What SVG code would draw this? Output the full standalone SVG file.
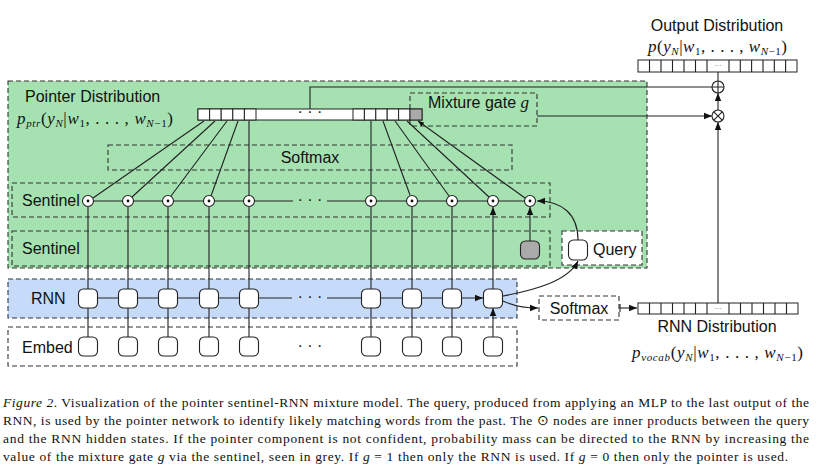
<svg xmlns="http://www.w3.org/2000/svg" width="817" height="472" viewBox="0 0 817 472">
<style>
.lbl{font-family:"Liberation Sans",Arial,sans-serif;font-size:16px;fill:#111}
.math{font-family:"Liberation Serif","Times New Roman",serif;font-size:17px;fill:#111}
.it{font-style:italic}
.cap{font-family:"Liberation Serif","Times New Roman",serif;font-size:13.5px;fill:#111}
.dash{fill:none;stroke:#333;stroke-width:1.1;stroke-dasharray:5,3}
.ln{fill:none;stroke:#222;stroke-width:1.1}
.node{fill:#fff;stroke:#222;stroke-width:1.1}
.cell{fill:#fff;stroke:#222;stroke-width:1}
.dots{font-family:"Liberation Sans",Arial,sans-serif;font-size:16px;fill:#111}
</style>
<defs>
<marker id="ah" viewBox="0 0 10 10" refX="10" refY="5" markerWidth="8" markerHeight="8" orient="auto" markerUnits="userSpaceOnUse"><path d="M0,1 L10,5 L0,9 z" fill="#111"/></marker>
<marker id="ahs" viewBox="0 0 10 10" refX="10" refY="5" markerWidth="6" markerHeight="6" orient="auto" markerUnits="userSpaceOnUse"><path d="M0,1 L10,5 L0,9 z" fill="#111"/></marker>
</defs>
<rect width="817" height="472" fill="#fff"/>

<!-- regions -->
<g id="pointer-region">
<rect x="8" y="81" width="639" height="187" fill="#a6e1b2" stroke="#333" stroke-width="1.1" stroke-dasharray="5,3"/>
<text class="lbl" x="25" y="102">Pointer Distribution</text>
<text class="math" x="17" y="124" textLength="156"><tspan class="it">p</tspan><tspan class="it" font-size="11" dy="3">ptr</tspan><tspan dy="-3">(</tspan><tspan class="it">y</tspan><tspan class="it" font-size="11" dy="3">N</tspan><tspan dy="-3">|</tspan><tspan class="it">w</tspan><tspan font-size="11" dy="3">1</tspan><tspan dy="-3">, . . . , </tspan><tspan class="it">w</tspan><tspan class="it" font-size="11" dy="3">N</tspan><tspan font-size="11">−1</tspan><tspan dy="-3">)</tspan></text>
</g>
<g id="softmax-pointer">
<rect class="dash" x="108" y="145" width="404" height="25"/>
<text class="lbl" x="310" y="163" text-anchor="middle">Softmax</text>
</g>
<g id="mixture-gate">
<rect class="dash" x="410" y="93" width="127" height="33"/>
<text class="lbl" x="428" y="108">Mixture gate <tspan font-family="Liberation Serif,serif" font-style="italic" font-size="17">g</tspan></text>
</g>
<g id="sentinel-row">
<rect class="dash" x="12" y="183" width="538" height="34"/>
<text class="lbl" x="22" y="206">Sentinel</text>
</g>
<g id="sentinel-box">
<rect class="dash" x="12" y="231" width="538" height="35"/>
<text class="lbl" x="22" y="254">Sentinel</text>
</g>
<g id="query-box">
<rect x="562" y="231" width="80" height="34" fill="#fff" stroke="#333" stroke-width="1.1" stroke-dasharray="5,3"/>
<text class="lbl" x="593" y="255">Query</text>
</g>
<g id="rnn-box">
<rect x="8" y="279" width="509" height="39" fill="#c6dbfa" stroke="#333" stroke-width="1.1" stroke-dasharray="5,3"/>
<text class="lbl" x="31" y="304">RNN</text>
</g>
<g id="embed-box">
<rect class="dash" x="8" y="327" width="509" height="39" fill="#fff"/>
<text class="lbl" x="22" y="353">Embed</text>
</g>
<g id="softmax-rnn">
<rect class="dash" x="539" y="296" width="80" height="24" fill="#fff"/>
<text class="lbl" x="579" y="314" text-anchor="middle">Softmax</text>
</g>

<!-- connectors -->
<g id="connectors">
<!-- embed to rnn -->
<path class="ln" marker-end="url(#ah)" d="M88,337V308M128,337V308M168,337V308M209,337V308M249,337V308M371,337V308M412,337V308M452,337V308M493,337V308"/>
<!-- rnn to inner products -->
<path class="ln" marker-end="url(#ah)" d="M88,289V207M128,289V207M168,289V207M209,289V207M249,289V207M371,289V207M412,289V207M452,289V207M493,289V207"/>
<path class="ln" marker-end="url(#ah)" d="M530,241V207"/>
<!-- rnn recurrences -->
<path class="ln" marker-end="url(#ah)" d="M98,298H118M138,298H158M178,298H199M219,298H239M259,298H292M327,298H361M381,298H402M422,298H442M462,298H483"/>
<!-- sentinel line -->
<path class="ln" d="M88,201H293M327,201H530"/>
<!-- inner products to pointer bar -->
<path class="ln" marker-end="url(#ahs)" d="M93,198L204,121M132,197L215,121M171,196L227,121M211,196L238,121M249,195V121M371,195V121M410,195L383,121M449,196L395,121M489,197L407,121M525,198L418,121"/>
<!-- query to last inner product -->
<path class="ln" marker-end="url(#ah)" d="M578,240C578,214 562,201 537,201"/>
<!-- rnn to query -->
<path class="ln" marker-end="url(#ah)" d="M503,296C535,290 568,281 578,261"/>
<!-- rnn to softmax -->
<path class="ln" marker-end="url(#ah)" d="M503,301C514,306 524,308 538,308"/>
<!-- softmax to rnn distribution -->
<path class="ln" d="M620,304V312"/>
<path class="ln" marker-end="url(#ah)" d="M620,308H637"/>
<!-- rnn dist to times -->
<path class="ln" marker-end="url(#ah)" d="M718,303V122"/>
<!-- mixture gate to times -->
<path class="ln" marker-end="url(#ah)" d="M537,116H712"/>
<!-- pointer bar to plus -->
<path class="ln" d="M310,109V87H712"/>
<!-- times to plus -->
<path class="ln" marker-end="url(#ah)" d="M718,110V93"/>
<!-- plus to output -->
<path class="ln" d="M718,81V72"/>
</g>

<!-- pointer bar -->
<g id="pointer-bar">
<rect class="cell" x="198" y="109" width="224" height="11"/>
<rect class="cell" x="198" y="109" width="11.6" height="11"/>
<rect class="cell" x="209.6" y="109" width="11.6" height="11"/>
<rect class="cell" x="221.2" y="109" width="11.6" height="11"/>
<rect class="cell" x="232.8" y="109" width="11.6" height="11"/>
<rect class="cell" x="244.4" y="109" width="11.6" height="11"/>
<rect class="cell" x="353" y="109" width="11.4" height="11"/>
<rect class="cell" x="364.4" y="109" width="11.4" height="11"/>
<rect class="cell" x="375.8" y="109" width="11.4" height="11"/>
<rect class="cell" x="387.2" y="109" width="11.4" height="11"/>
<rect class="cell" x="398.6" y="109" width="11.4" height="11"/>
<rect x="410" y="109" width="12" height="11" fill="#aaa" stroke="#222" stroke-width="1"/>
<text class="dots" x="310" y="117" text-anchor="middle">· · ·</text>
</g>

<!-- output distribution -->
<g id="output-distribution">
<text class="lbl" x="717" y="31" text-anchor="middle">Output Distribution</text>
<text class="math" x="648" y="52" textLength="139"><tspan class="it">p</tspan>(<tspan class="it">y</tspan><tspan class="it" font-size="11" dy="3">N</tspan><tspan dy="-3">|</tspan><tspan class="it">w</tspan><tspan font-size="11" dy="3">1</tspan><tspan dy="-3">, . . . , </tspan><tspan class="it">w</tspan><tspan class="it" font-size="11" dy="3">N</tspan><tspan font-size="11">−1</tspan><tspan dy="-3">)</tspan></text>
<rect class="cell" x="638" y="60" width="159" height="12"/>
<path class="ln" stroke-width="1" d="M649.5,60V72M661,60V72M672.5,60V72M684,60V72M695.5,60V72M707,60V72M729,60V72M740.3,60V72M751.6,60V72M763,60V72M774.3,60V72M785.6,60V72"/>
<text x="718" y="68" text-anchor="middle" font-family="Liberation Sans,sans-serif" font-size="7" fill="#3355aa">···</text>
</g>

<!-- rnn distribution -->
<g id="rnn-distribution">
<rect class="cell" x="638" y="303" width="160" height="11"/>
<path class="ln" stroke-width="1" d="M649.5,303V314M661,303V314M672.5,303V314M684,303V314M695.5,303V314M707,303V314M729,303V314M740.5,303V314M752,303V314M763.5,303V314M775,303V314M786.5,303V314"/>
<text x="718" y="311" text-anchor="middle" font-family="Liberation Sans,sans-serif" font-size="7" fill="#3355aa">···</text>
<text class="lbl" x="717" y="332" text-anchor="middle">RNN Distribution</text>
<text class="math" x="632" y="358" textLength="171"><tspan class="it">p</tspan><tspan class="it" font-size="11" dy="3">vocab</tspan><tspan dy="-3">(</tspan><tspan class="it">y</tspan><tspan class="it" font-size="11" dy="3">N</tspan><tspan dy="-3">|</tspan><tspan class="it">w</tspan><tspan font-size="11" dy="3">1</tspan><tspan dy="-3">, . . . , </tspan><tspan class="it">w</tspan><tspan class="it" font-size="11" dy="3">N</tspan><tspan font-size="11">−1</tspan><tspan dy="-3">)</tspan></text>
</g>

<!-- combine ops -->
<g id="plus-op">
<circle cx="718" cy="87" r="6" fill="#fff" stroke="#222" stroke-width="1.1"/>
<path class="ln" d="M712,87H724M718,81V93"/>
</g>
<g id="times-op">
<circle cx="718" cy="116" r="6" fill="#fff" stroke="#222" stroke-width="1.1"/>
<path class="ln" d="M713.8,111.8L722.2,120.2M722.2,111.8L713.8,120.2"/>
</g>

<!-- inner product nodes -->
<g id="inner-products">
<g id="ip1"><circle class="node" cx="88" cy="201" r="5.5"/><circle cx="88" cy="201" r="1.4" fill="#111"/></g>
<g id="ip2"><circle class="node" cx="128" cy="201" r="5.5"/><circle cx="128" cy="201" r="1.4" fill="#111"/></g>
<g id="ip3"><circle class="node" cx="168" cy="201" r="5.5"/><circle cx="168" cy="201" r="1.4" fill="#111"/></g>
<g id="ip4"><circle class="node" cx="209" cy="201" r="5.5"/><circle cx="209" cy="201" r="1.4" fill="#111"/></g>
<g id="ip5"><circle class="node" cx="249" cy="201" r="5.5"/><circle cx="249" cy="201" r="1.4" fill="#111"/></g>
<g id="ip6"><circle class="node" cx="371" cy="201" r="5.5"/><circle cx="371" cy="201" r="1.4" fill="#111"/></g>
<g id="ip7"><circle class="node" cx="412" cy="201" r="5.5"/><circle cx="412" cy="201" r="1.4" fill="#111"/></g>
<g id="ip8"><circle class="node" cx="452" cy="201" r="5.5"/><circle cx="452" cy="201" r="1.4" fill="#111"/></g>
<g id="ip9"><circle class="node" cx="493" cy="201" r="5.5"/><circle cx="493" cy="201" r="1.4" fill="#111"/></g>
<g id="ip10"><circle class="node" cx="530" cy="201" r="5.5"/><circle cx="530" cy="201" r="1.4" fill="#111"/></g>
<text class="dots" x="310" y="205" text-anchor="middle">· · ·</text>
</g>

<g id="sentinel-node"><rect x="520.5" y="241" width="19" height="18" rx="5" fill="#aaa" stroke="#222" stroke-width="1.1"/></g>
<g id="query-node"><rect class="node" x="568.5" y="240" width="19" height="20" rx="5"/></g>

<!-- rnn nodes -->
<g id="rnn-nodes">
<g id="rnn1"><rect class="node" x="78.5" y="289" width="19" height="19" rx="5"/></g>
<g id="rnn2"><rect class="node" x="118.5" y="289" width="19" height="19" rx="5"/></g>
<g id="rnn3"><rect class="node" x="158.5" y="289" width="19" height="19" rx="5"/></g>
<g id="rnn4"><rect class="node" x="199.5" y="289" width="19" height="19" rx="5"/></g>
<g id="rnn5"><rect class="node" x="239.5" y="289" width="19" height="19" rx="5"/></g>
<g id="rnn6"><rect class="node" x="361.5" y="289" width="19" height="19" rx="5"/></g>
<g id="rnn7"><rect class="node" x="402.5" y="289" width="19" height="19" rx="5"/></g>
<g id="rnn8"><rect class="node" x="442.5" y="289" width="19" height="19" rx="5"/></g>
<g id="rnn9"><rect class="node" x="483.5" y="289" width="19" height="19" rx="5"/></g>
<text class="dots" x="310" y="302" text-anchor="middle">· · ·</text>
</g>

<!-- embed nodes -->
<g id="embed-nodes">
<g id="emb1"><rect class="node" x="78.5" y="337" width="19" height="19" rx="5"/></g>
<g id="emb2"><rect class="node" x="118.5" y="337" width="19" height="19" rx="5"/></g>
<g id="emb3"><rect class="node" x="158.5" y="337" width="19" height="19" rx="5"/></g>
<g id="emb4"><rect class="node" x="199.5" y="337" width="19" height="19" rx="5"/></g>
<g id="emb5"><rect class="node" x="239.5" y="337" width="19" height="19" rx="5"/></g>
<g id="emb6"><rect class="node" x="361.5" y="337" width="19" height="19" rx="5"/></g>
<g id="emb7"><rect class="node" x="402.5" y="337" width="19" height="19" rx="5"/></g>
<g id="emb8"><rect class="node" x="442.5" y="337" width="19" height="19" rx="5"/></g>
<g id="emb9"><rect class="node" x="483.5" y="337" width="19" height="19" rx="5"/></g>
<text class="dots" x="310" y="351" text-anchor="middle">· · ·</text>
</g>

<!-- caption -->
<g id="caption">
<text class="cap" x="3" y="407" textLength="806" lengthAdjust="spacing"><tspan font-style="italic">Figure 2</tspan>. Visualization of the pointer sentinel-RNN mixture model. The query, produced from applying an MLP to the last output of the</text>
<text class="cap" x="3" y="425" textLength="806" lengthAdjust="spacing">RNN, is used by the pointer network to identify likely matching words from the past. The ⊙ nodes are inner products between the query</text>
<text class="cap" x="3" y="443" textLength="806" lengthAdjust="spacing">and the RNN hidden states.  If the pointer component is not confident, probability mass can be directed to the RNN by increasing the</text>
<text class="cap" x="3" y="461" textLength="785" lengthAdjust="spacing">value of the mixture gate <tspan font-style="italic">g</tspan> via the sentinel, seen in grey. If <tspan font-style="italic">g</tspan> = 1 then only the RNN is used. If <tspan font-style="italic">g</tspan> = 0 then only the pointer is used.</text>
</g>
</svg>
